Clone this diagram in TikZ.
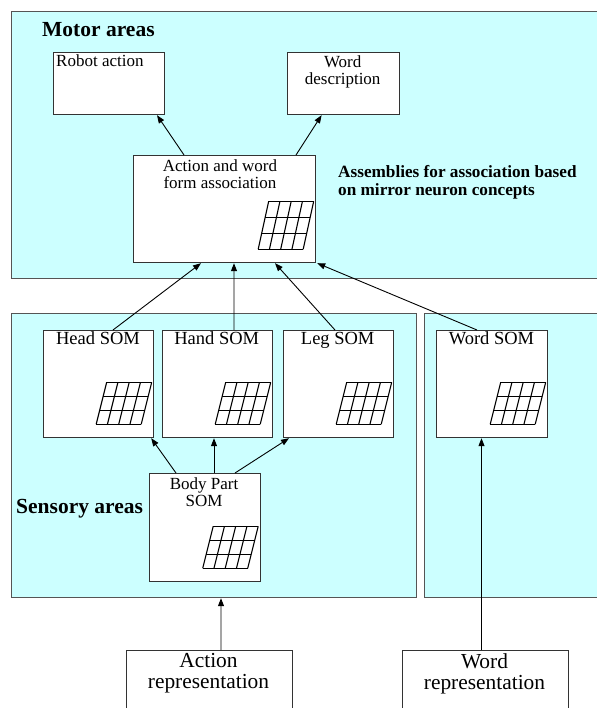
\documentclass[tikz,border=0pt]{standalone}
\usepackage{fontspec}
\setmainfont{Liberation Serif}
\usetikzlibrary{arrows.meta,calc}
\definecolor{areafill}{HTML}{CCFFFF}
\definecolor{areadraw}{HTML}{555555}
\definecolor{boxdraw}{HTML}{333333}
\newcommand\fsz[2]{\fontsize{#1bp}{#2bp}\selectfont}
\newcommand\somgrid[2]{% node, height
  \begin{scope}[shift={(#1.south east)}, line width=1.1bp]
    \foreach \i in {0,...,4}{
      \draw ($(-58,-14)+(11.25*\i,0)$) -- ($(-58,-14)+(11.25*\i+10.5,-#2)$);
    }
    \foreach \j in {0,...,3}{
      \draw ($(-58,-14)+(10.5*\j/3,-#2*\j/3)$) -- ++(45,0);
    }
  \end{scope}}
\tikzset{
  area/.style={draw=areadraw, fill=areafill, line width=1.2bp, inner sep=0, anchor=north west},
  box/.style={draw=boxdraw, fill=white, line width=1.2bp, inner sep=0, anchor=north west},
  conn/.style={-{Triangle[length=8bp,width=6bp]}, line width=0.9bp},
  head/.style={font=\fsz{21.5}{24}\bfseries, inner sep=0},
  lbl/.style={font=\fsz{17}{17}, inner sep=0, align=center},
  somlbl/.style={font=\fsz{18.5}{19}, inner sep=0, anchor=mid},
  replbl/.style={font=\fsz{21.4}{21}, inner sep=0, align=center},
}
\begin{document}
\begin{tikzpicture}[x=1bp,y=-1bp]
\useasboundingbox (0,0) rectangle (597,708);
% areas
\node[area, minimum width=600bp, minimum height=267bp] (motor) at (11,11) {};
\node[area, minimum width=405bp, minimum height=284bp] (sensory) at (11,313) {};
\node[area, minimum width=200bp, minimum height=284bp] (wordarea) at (424,313) {};
\node[head, anchor=mid west] (motort) at (42,34) {Motor areas};
\node[head, anchor=mid west] (sensoryt) at (16,511) {Sensory areas};
\node[font=\fsz{17.2}{18}\bfseries, inner sep=0, align=left, anchor=north west] (assemt) at (338,165) {Assemblies for association based\\on mirror neuron concepts};
% boxes
\node[box, minimum width=111bp, minimum height=62bp] (robot) at (52.5,52) {};
\node[box, minimum width=111.5bp, minimum height=62bp] (wdesc) at (287,52) {};
\node[box, minimum width=182bp, minimum height=107bp] (assoc) at (133,155) {};
\node[box, minimum width=110bp, minimum height=107bp] (headsom) at (43,330) {};
\node[box, minimum width=110.5bp, minimum height=107bp] (handsom) at (161.5,330) {};
\node[box, minimum width=110.5bp, minimum height=107bp] (legsom) at (282.5,330) {};
\node[box, minimum width=111bp, minimum height=107bp] (wordsom) at (436,330) {};
\node[box, minimum width=111bp, minimum height=108bp] (body) at (148.5,473) {};
\node[box, minimum width=166bp, minimum height=70bp] (actrep) at (125.5,650) {};
\node[box, minimum width=166bp, minimum height=70bp] (wordrep) at (401.5,650) {};
% texts
\node[lbl, anchor=mid west] (robott) at (56,64) {Robot action};
\node[lbl] (wdesct) at (342.7,71.5) {Word\\description};
\node[lbl] (assoct) at (220,174.5) {Action and word\\form association};
\node[somlbl] (headt) at (98,342.5) {Head SOM};
\node[somlbl] (handt) at (216.7,342.5) {Hand SOM};
\node[somlbl] (legt) at (337.7,342.5) {Leg SOM};
\node[somlbl] (wordt) at (491.5,342.5) {Word SOM};
\node[lbl] (bodyt) at (204,492) {Body Part\\SOM};
\node[replbl] (actrept) at (208.5,673.5) {Action\\representation};
\node[replbl] (wordrept) at (484.5,673.5) {Word\\representation};
% grids
\somgrid{assoc}{48}
\somgrid{headsom}{42}
\somgrid{handsom}{42}
\somgrid{legsom}{42}
\somgrid{wordsom}{42}
\somgrid{body}{42}
% connectors
\draw[conn] ($(assoc.north west)+(51,0)$) -- ($(robot.south west)+(104.5,0)$);
\draw[conn] ($(assoc.north west)+(163,0)$) -- ($(wdesc.south west)+(34.6,0)$);
\draw[conn] ($(headsom.north west)+(70,0)$) -- ($(assoc.south west)+(68,0)$);
\draw[conn] ($(handsom.north west)+(72.5,0)$) -- ($(assoc.south west)+(101,0)$);
\draw[conn] ($(legsom.north west)+(52.5,0)$) -- ($(assoc.south west)+(142,0)$);
\draw[conn] ($(wordsom.north west)+(41,0)$) -- ($(assoc.south east)+(1,0)$);
\draw[conn] ($(body.north west)+(27.5,0)$) -- ($(headsom.south east)+(-3,0)$);
\draw[conn] ($(body.north west)+(65.5,0)$) -- ($(handsom.south west)+(52.5,0)$);
\draw[conn] ($(body.north west)+(86.5,0)$) -- ($(legsom.south west)+(6.5,0)$);
\draw[conn] ($(actrep.north west)+(95.5,0)$) -- ($(sensory.south west)+(210,0)$);
\draw[conn] ($(wordrep.north west)+(80,0)$) -- ($(wordsom.south west)+(45.5,0)$);
\end{tikzpicture}
\end{document}
